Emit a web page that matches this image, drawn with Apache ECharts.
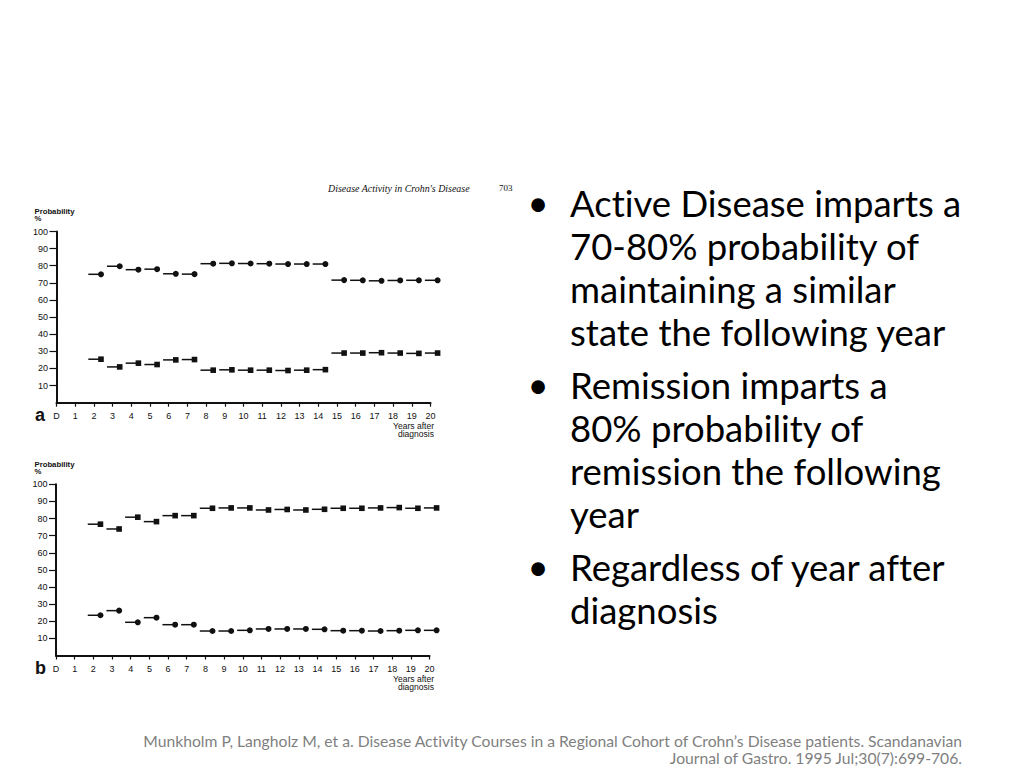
<!DOCTYPE html>
<html><head><meta charset="utf-8">
<script src="https://cdn.jsdelivr.net/npm/echarts@6/dist/echarts.min.js"></script>
<style>
html,body{margin:0;padding:0;background:#fff}
#c{width:1024px;height:768px}
#c text{font-variant-ligatures:none !important;font-feature-settings:"liga" 0,"clig" 0 !important}
</style>
</head><body><div id="c"></div>
<script>
// ---- data ----
const years = [2,3,4,5,6,7,8,9,10,11,12,13,14,15,16,17,18,19,20];
const aActive    = [75,79.7,77.7,78,75.3,75.1,81.2,81.4,81.3,81.2,81,81,81,71.6,71.5,71.2,71.4,71.5,71.5];
const aRemission = [25.4,20.9,23.1,22.3,25,25.2,19,19.2,19,19,18.8,19,19.3,29,29,29.2,29,28.8,29];
const bRemission = [76.7,73.9,80.8,78.2,81.7,81.7,86,86.2,86.2,85,85.3,85,85.4,86,86,86.2,86.4,86,86.2];
const bActive    = [23.5,26.2,19.4,22.1,18,18,14.3,14.3,14.7,15.5,15.5,15.5,15.3,14.5,14.5,14.3,14.5,14.7,14.7];
const yTicks = [10,20,30,40,50,60,70,80,90,100];
const xZeroLabel = 'D';
const yTitle = ['Probability', '%'];
const xTitle = ['Years after', 'diagnosis'];
const panelLetters = ['a', 'b'];
const header = "Disease Activity in Crohn's Disease";
const pageNo = '703';
const bulletParas = [
  ['Active Disease imparts a', '70-80% probability of', 'maintaining a similar', 'state the following year'],
  ['Remission imparts a', '80% probability of', 'remission the following', 'year'],
  ['Regardless of year after', 'diagnosis']
];
const citation = [
  'Munkholm P, Langholz M, et a. Disease Activity Courses in a Regional Cohort of Crohn\u2019s Disease patients. Scandanavian',
  'Journal of Gastro. 1995 Jul;30(7):699-706.'
];

// ---- helpers ----
const ctx2d = document.createElement('canvas').getContext('2d');
function fitSize(text, font, target) {
  ctx2d.font = font.replace('{s}', '100px');
  return 100 * target / ctx2d.measureText(text).width;
}
const INK = '#111';
const FIG_FONT = 'Liberation Sans';

function segSeries(idx, values, shape) {
  return {
    type: 'custom', xAxisIndex: idx, yAxisIndex: idx, silent: true, clip: false,
    data: years.map((y, i) => [y, values[i]]),
    renderItem(params, api) {
      const x = api.value(0), v = api.value(1);
      const p0 = api.coord([x - 0.3, v]);
      const p1 = api.coord([x + 0.38, v]);
      const mk = shape === 'circle'
        ? { type: 'circle', shape: { cx: p1[0], cy: p1[1], r: 3 }, style: { fill: INK } }
        : { type: 'rect', shape: { x: p1[0] - 2.8, y: p1[1] - 2.8, width: 5.6, height: 5.6 }, style: { fill: INK } };
      return { type: 'group', children: [
        { type: 'line', shape: { x1: p0[0], y1: p0[1], x2: p1[0], y2: p1[1] }, style: { stroke: INK, lineWidth: 1.5 } },
        mk
      ]};
    }
  };
}
function xAx(idx) {
  return {
    type: 'value', gridIndex: idx, min: 0, max: 20, interval: 1,
    axisLine: { show: true, onZero: false, lineStyle: { color: INK, width: 2 } },
    axisTick: { show: true, length: 4, lineStyle: { color: INK, width: 1.2 } },
    axisLabel: { margin: 8.5, fontSize: 9, color: '#111', fontFamily: FIG_FONT,
      formatter: v => v === 0 ? xZeroLabel : String(v) },
    splitLine: { show: false }
  };
}
function yAx(idx) {
  return {
    type: 'value', gridIndex: idx, min: 0, max: 100, interval: 10,
    axisLine: { show: true, onZero: false, lineStyle: { color: INK, width: 2 } },
    axisTick: { show: true, length: 7, customValues: yTicks, lineStyle: { color: INK, width: 1.2 } },
    axisLabel: { margin: 8.5, fontSize: 9, color: '#111', fontFamily: FIG_FONT, customValues: yTicks },
    splitLine: { show: false }
  };
}

// ---- graphic texts ----
const graphics = [];
function txt(text, x, y, font, fill, align) {
  graphics.push({ type: 'text', x, y, silent: true, style: {
    text, font, fill, textAlign: align || 'left', align: align || 'left',
    textVerticalAlign: 'middle', verticalAlign: 'middle' } });
}
// figure labels
const probFont = `bold ${fitSize(yTitle[0], 'bold {s} ' + FIG_FONT, 40).toFixed(2)}px ${FIG_FONT}`;
const ytFont = `${fitSize(xTitle[0], '{s} ' + FIG_FONT, 41).toFixed(2)}px ${FIG_FONT}`;
[[211, 218, 415, 426, 434], [464, 471, 668, 679, 687]].forEach((p, i) => {
  txt(yTitle[0], 34.5, p[0], probFont, INK);
  txt(yTitle[1], 34.5, p[1], probFont, INK);
  txt(panelLetters[i], 35, p[2], `bold 18px ${FIG_FONT}`, INK);
  txt(xTitle[0], 434, p[3], ytFont, INK, 'right');
  txt(xTitle[1], 434, p[4], ytFont, INK, 'right');
});
const hdrFont = `italic ${fitSize(header, 'italic {s} Liberation Serif', 142).toFixed(2)}px Liberation Serif`;
txt(header, 328, 188, hdrFont, INK);
txt(pageNo, 499, 187.5, '9px Liberation Serif', INK);

// bullets
const BF = 'Lato';
const bSize = fitSize(bulletParas[0][0], '{s} ' + BF, 392);
const bFont = `${bSize.toFixed(2)}px ${BF}`;
let base = 216;
bulletParas.forEach((para, pi) => {
  if (pi > 0) base += 53;
  para.forEach((line, li) => {
    if (li > 0) base += 43;
    if (li === 0) txt('\u2022', 538, base - 0.37 * bSize, bFont, '#000', 'center');
    txt(line, 570, base - 0.35 * bSize, bFont, '#000');
  });
});
// citation
const cSize = fitSize(citation[0], '{s} ' + BF, 821);
const cFont = `${cSize.toFixed(2)}px ${BF}`;
txt(citation[0], 962, 741, cFont, '#7f7f7f', 'right');
txt(citation[1], 962, 758, cFont, '#7f7f7f', 'right');

const chart = echarts.init(document.getElementById('c'), null, { renderer: 'svg' });
chart.setOption({
  backgroundColor: '#fff',
  animation: false,
  grid: [
    { left: 56.5, top: 231.5, width: 374, height: 171.2 },
    { left: 56, top: 484.3, width: 373.5, height: 171.2 }
  ],
  xAxis: [xAx(0), xAx(1)],
  yAxis: [yAx(0), yAx(1)],
  series: [
    segSeries(0, aActive, 'circle'),
    segSeries(0, aRemission, 'rect'),
    segSeries(1, bRemission, 'rect'),
    segSeries(1, bActive, 'circle')
  ],
  graphic: graphics
});
</script>
</body></html>
